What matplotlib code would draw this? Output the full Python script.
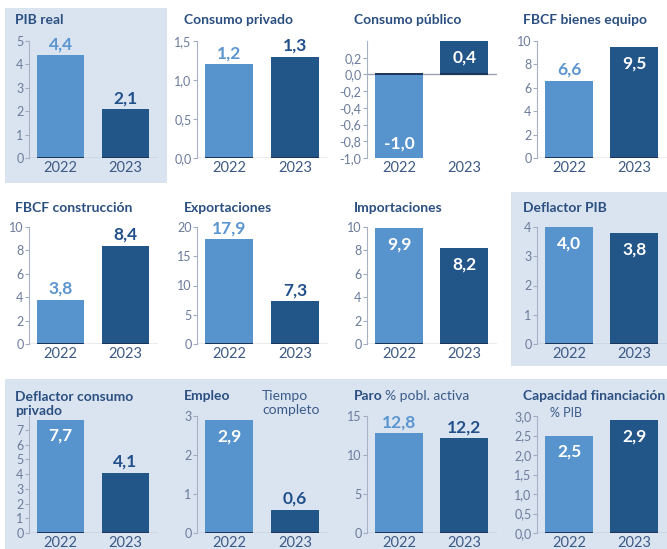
import matplotlib
matplotlib.use("Agg")
import matplotlib.pyplot as plt
from matplotlib.patches import Rectangle
from matplotlib.ticker import FuncFormatter

# datos (2022 / 2023)
titulos = ["PIB real", "Consumo privado", "Consumo público", "FBCF bienes equipo",
           "FBCF construcción", "Exportaciones", "Importaciones", "Deflactor PIB",
           "Deflactor consumo\nprivado", "Empleo", "Paro", "Capacidad financiación"]
anios = ["2022", "2023"]
v2022 = [4.4, 1.2, -1.0, 6.6, 3.8, 17.9, 9.9, 4.0, 7.7, 2.9, 12.8, 2.5]
v2023 = [2.1, 1.3, 0.4, 9.5, 8.4, 7.3, 8.2, 3.8, 4.1, 0.6, 12.2, 2.9]

ylims = [(0, 5), (0, 1.5), (-1.0, 0.4), (0, 10), (0, 10), (0, 20),
         (0, 10), (0, 4), (0, 7.95), (0, 3), (0, 15), (0, 3.0)]
yticks = [[0, 1, 2, 3, 4, 5], [0, 0.5, 1.0, 1.5],
          [-1.0, -0.8, -0.6, -0.4, -0.2, 0.0, 0.2], [0, 2, 4, 6, 8, 10],
          [0, 2, 4, 6, 8, 10], [0, 5, 10, 15, 20], [0, 2, 4, 6, 8, 10],
          [0, 1, 2, 3, 4], [0, 1, 2, 3, 4, 5, 6, 7], [0, 1, 2, 3],
          [0, 5, 10, 15], [0, 0.5, 1.0, 1.5, 2.0, 2.5, 3.0]]
decimales = [0, 1, 1, 0, 0, 0, 0, 0, 0, 0, 0, 1]
# posicion de la etiqueta: a = encima, d = dentro
modo = [("a", "a"), ("a", "a"), ("d", "d"), ("a", "d"),
        ("a", "a"), ("a", "a"), ("d", "d"), ("d", "d"),
        ("d", "a"), ("d", "a"), ("a", "a"), ("d", "d")]

W, H = 667, 549
claro = "#5793cc"
oscuro = "#225588"
txtclaro = "#5b95cf"
txtoscuro = "#22508a"
fondo = "#dae4f1"
col_tit = "#2a4f80"
col_tick = "#6b7b9b"

plt.rcParams['font.family'] = ['Lato', 'DejaVu Sans']

fig = plt.figure(figsize=(W / 100, H / 100), dpi=100)
fig.patch.set_facecolor("white")

def rect(x0, y0, x1, y1):
    fig.patches.append(Rectangle((x0 / W, 1 - y1 / H), (x1 - x0) / W, (y1 - y0) / H,
                                 transform=fig.transFigure, facecolor=fondo,
                                 edgecolor="none", zorder=-10))

rect(5, 8, 167, 183)
rect(511, 192, 667, 366)
rect(5, 379, 667, 549)

izq = [29, 197, 367, 537]
der = [158, 328, 497, 667]
arriba = [41, 227, 416]
abajo = [158, 344, 533]
tit_x = [15, 184, 354, 523]
tit_y = [20, 208, 396]

ancho = 0.73
xs = [0, 1]

def fmt(d):
    return FuncFormatter(lambda v, p: ("%.*f" % (d, v)).replace(".", ","))

for i in range(12):
    f, c = i // 4, i % 4
    ax = fig.add_axes([izq[c] / W, 1 - abajo[f] / H,
                       (der[c] - izq[c]) / W, (abajo[f] - arriba[f]) / H])
    ax.set_facecolor("none")
    vals = [v2022[i], v2023[i]]
    ax.bar(xs, vals, width=ancho, color=[claro, oscuro], zorder=2)
    ax.hlines(0, -0.49, 1.5, color="#9aa3b5", lw=1, zorder=1)
    for x in xs:
        ax.hlines(0, x - ancho / 2, x + ancho / 2, color="#1b3558", lw=1.4, zorder=3)
    ax.set_xlim(-0.49, 1.5)
    ax.set_ylim(*ylims[i])
    ax.set_yticks(yticks[i])
    ax.yaxis.set_major_formatter(fmt(decimales[i]))
    ax.set_xticks(xs)
    ax.set_xticklabels(anios)
    ax.tick_params(axis="x", length=0, labelsize=10.5, labelcolor="#3d5a85", pad=2)
    ax.tick_params(axis="y", length=3, width=0.8, color="#a0aac0",
                   labelsize=9, labelcolor=col_tick, pad=1)
    for s in ["top", "right", "bottom"]:
        ax.spines[s].set_visible(False)
    ax.spines["left"].set_color("#a8b2c6")
    ax.spines["left"].set_linewidth(0.8)

    for j, x in enumerate(xs):
        v = vals[j]
        t = ("%.1f" % v).replace(".", ",")
        if modo[i][j] == "a":
            col = txtclaro if j == 0 else txtoscuro
            ax.annotate(t, (x, v), xytext=(0, 2), textcoords="offset points",
                        ha="center", va="bottom", fontsize=12.5, fontweight="bold",
                        color=col, zorder=4, annotation_clip=False)
        elif v >= 0:
            ax.annotate(t, (x, v), xytext=(0, -6), textcoords="offset points",
                        ha="center", va="top", fontsize=12.5, fontweight="bold",
                        color="white", zorder=4)
        else:
            ax.annotate(t, (x, v), xytext=(0, 5), textcoords="offset points",
                        ha="center", va="bottom", fontsize=12.5, fontweight="bold",
                        color="white", zorder=4)

    if i == 8:
        fig.text(tit_x[c] / W, 1 - 404 / H, titulos[i], fontsize=10, fontweight="bold",
                 color=col_tit, va="center", ha="left", linespacing=1.2)
    else:
        fig.text(tit_x[c] / W, 1 - tit_y[f] / H, titulos[i], fontsize=10,
                 fontweight="bold", color=col_tit, va="center", ha="left")

# textos secundarios
fig.text(262 / W, 1 - 403 / H, "Tiempo\ncompleto", fontsize=10, color="#3a5a88",
         va="center", ha="left", linespacing=1.2)
fig.text(385 / W, 1 - 396 / H, "% pobl. activa", fontsize=10, color="#3a5a88",
         va="center", ha="left")
fig.text(550 / W, 1 - 413 / H, "% PIB", fontsize=9, color="#3a5a88",
         va="center", ha="left")

fig.savefig("out.png", dpi=100)
